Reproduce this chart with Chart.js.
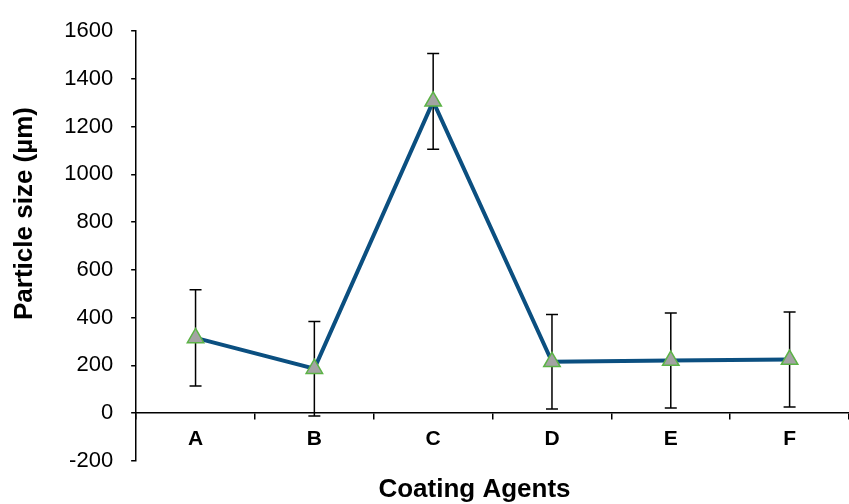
<!DOCTYPE html>
<html>
<head>
<meta charset="utf-8">
<script src="https://cdn.jsdelivr.net/npm/chart.js@4"></script>
<style>
  html, body { margin: 0; padding: 0; background: #fff; overflow: hidden; }
  #wrap { position: absolute; left: 0; top: 0; width: 860px; height: 504px; }
  #wrap canvas { display: block; max-width: none !important; }
</style>
</head>
<body>
<div id="wrap"><canvas id="chartSize"></canvas></div>
<script>
// ---- du lieu ----
const tacNhan = ["A", "B", "C", "D", "E", "F"];
const kichThuoc = [315, 186, 1306, 215, 220, 224];
const saiSo = [202, 198, 201, 198, 199, 199];
const yTicks = [-200, 0, 200, 400, 600, 800, 1000, 1200, 1400, 1600];

const FONT = "Liberation Sans, Arial, sans-serif";

// ve thanh sai so bang scale cua chart
const errorBarPlugin = {
    id: "errorBars",
    beforeDatasetsDraw(chart) {
        const ctx = chart.ctx;
        const x = chart.scales.x, y = chart.scales.y;
        ctx.save();
        ctx.strokeStyle = "#000";
        ctx.lineWidth = 1.5;
        kichThuoc.forEach((v, i) => {
            const px = x.getPixelForValue(i);
            const top = y.getPixelForValue(v + saiSo[i]);
            const bot = y.getPixelForValue(v - saiSo[i]);
            ctx.beginPath();
            ctx.moveTo(px, top); ctx.lineTo(px, bot);
            ctx.moveTo(px - 6, top); ctx.lineTo(px + 6, top);
            ctx.moveTo(px - 6, bot); ctx.lineTo(px + 6, bot);
            ctx.stroke();
        });
        ctx.restore();
    }
};

// bo padding ngang tu dong cua truc x
const boPadding = (scale) => { scale.paddingLeft = 0; scale.paddingRight = 0; };

new Chart(document.getElementById("chartSize"), {
    type: "line",
    data: {
        labels: tacNhan,
        datasets: [{
            label: "Particle size",
            data: kichThuoc,
            borderColor: "#0b4f80",
            borderWidth: 4,
            tension: 0,
            pointStyle: "triangle",
            pointRadius: 9.5,
            pointHoverRadius: 9.5,
            pointBackgroundColor: "#a3a3a3",
            pointBorderColor: "#5cb346",
            pointBorderWidth: 1.5
        }]
    },
    options: {
        responsive: true,
        maintainAspectRatio: false,
        animation: false,
        layout: { padding: { top: 22, left: 9, right: 0, bottom: 0 } },
        plugins: {
            legend: { display: false },
            tooltip: { enabled: false }
        },
        scales: {
            x: {
                type: "category",
                position: { y: 0 },
                offset: true,
                afterFit: boPadding,
                grid: { offset: true, drawOnChartArea: false, drawTicks: true, tickLength: 6, color: "#000", lineWidth: 1.5 },
                border: { color: "#000", width: 1.5 },
                ticks: { color: "#000", font: { family: FONT, size: 21, weight: "bold" }, padding: 8 }
            },
            x2: {
                type: "category",
                position: "bottom",
                afterFit: boPadding,
                grid: { display: false },
                border: { display: false },
                ticks: { display: false },
                title: { display: true, text: "Coating Agents     ", color: "#000", font: { family: FONT, size: 26, weight: "bold" }, padding: { top: 5, bottom: -1 } }
            },
            y: {
                min: -200,
                max: 1600,
                afterBuildTicks: (axis) => { axis.ticks = yTicks.map(v => ({ value: v })); },
                grid: { drawOnChartArea: false, drawTicks: true, tickLength: 5, color: "#000", lineWidth: 1.5 },
                border: { color: "#000", width: 1.5 },
                ticks: { color: "#000", font: { family: FONT, size: 22 }, padding: 18, callback: (v) => String(v) },
                title: { display: true, text: "         Particle size (µm)", color: "#000", font: { family: FONT, size: 26, weight: "bold" }, padding: { top: 0, bottom: 6 } }
            }
        }
    },
    plugins: [errorBarPlugin]
});
</script>
</body>
</html>
